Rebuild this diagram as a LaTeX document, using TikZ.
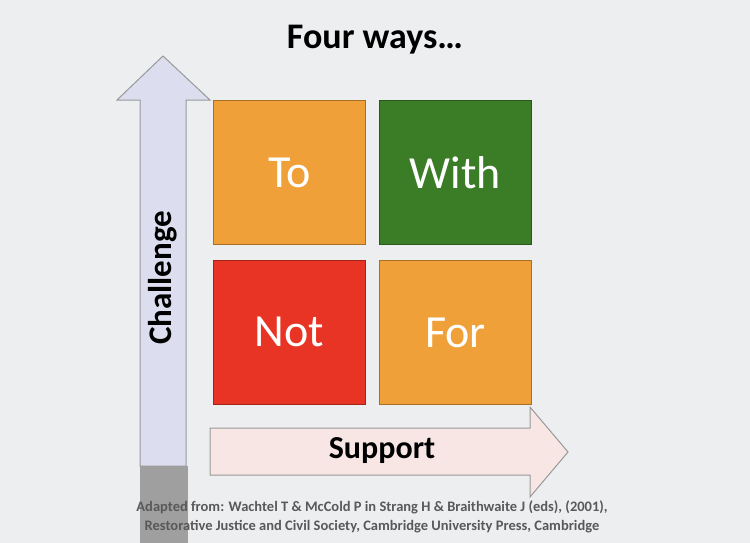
\documentclass[tikz,border=0pt]{standalone}
\usepackage{fontspec}
\setmainfont{Carlito}
\begin{document}
\begin{tikzpicture}[x=1pt,y=-1pt,
  sq/.style={draw=#1!70!black,line width=0.8pt,minimum width=152pt,minimum height=144pt,anchor=north west,inner sep=0pt,text=white,font=\fontsize{46}{46}\selectfont},
  arr/.style={draw=gray!80,line width=1pt}]
\definecolor{bg}{HTML}{ECEEF0}
\definecolor{org}{HTML}{F0A038}
\definecolor{grn}{HTML}{3A7D26}
\definecolor{rd}{HTML}{E83424}
\definecolor{lav}{HTML}{DCDDEE}
\definecolor{pnk}{HTML}{F8E6E4}
\fill[bg] (0,0) rectangle (750,543);
\useasboundingbox (0,0) rectangle (750,543);
\fill[gray!75] (140,466) rectangle (188,543);
\draw[arr,fill=lav] (140,466) -- (140,100) -- (117,100) -- (163,56) -- (210,100) -- (186,100) -- (186,466) -- cycle;
\draw[arr,fill=pnk] (210,428) -- (530,428) -- (530,407) -- (568,452) -- (530,497) -- (530,475) -- (210,475) -- cycle;
\node[sq=org,fill=org] (to) at (213,100) {To};
\node[sq=grn,fill=grn] (with) at (379,100) {With};
\node[sq=rd,fill=rd] (not) at (213,260) {Not};
\node[sq=org,fill=org] (for) at (379,260) {For};
\node[font=\fontsize{36}{36}\selectfont\bfseries] (title) at (375,40) {Four ways…};
\node[rotate=90,font=\fontsize{33}{33}\selectfont\bfseries] (ch) at (163,278) {Challenge};
\node[font=\fontsize{32}{32}\selectfont\bfseries] (su) at (382,451) {Support};
\node[font=\fontsize{14.5}{19}\selectfont\bfseries,text=black!65,align=center] (ft) at (372,517) {Adapted from: Wachtel T \& McCold P in Strang H \& Braithwaite J (eds), (2001),\\Restorative Justice and Civil Society, Cambridge University Press, Cambridge};
\end{tikzpicture}
\end{document}
